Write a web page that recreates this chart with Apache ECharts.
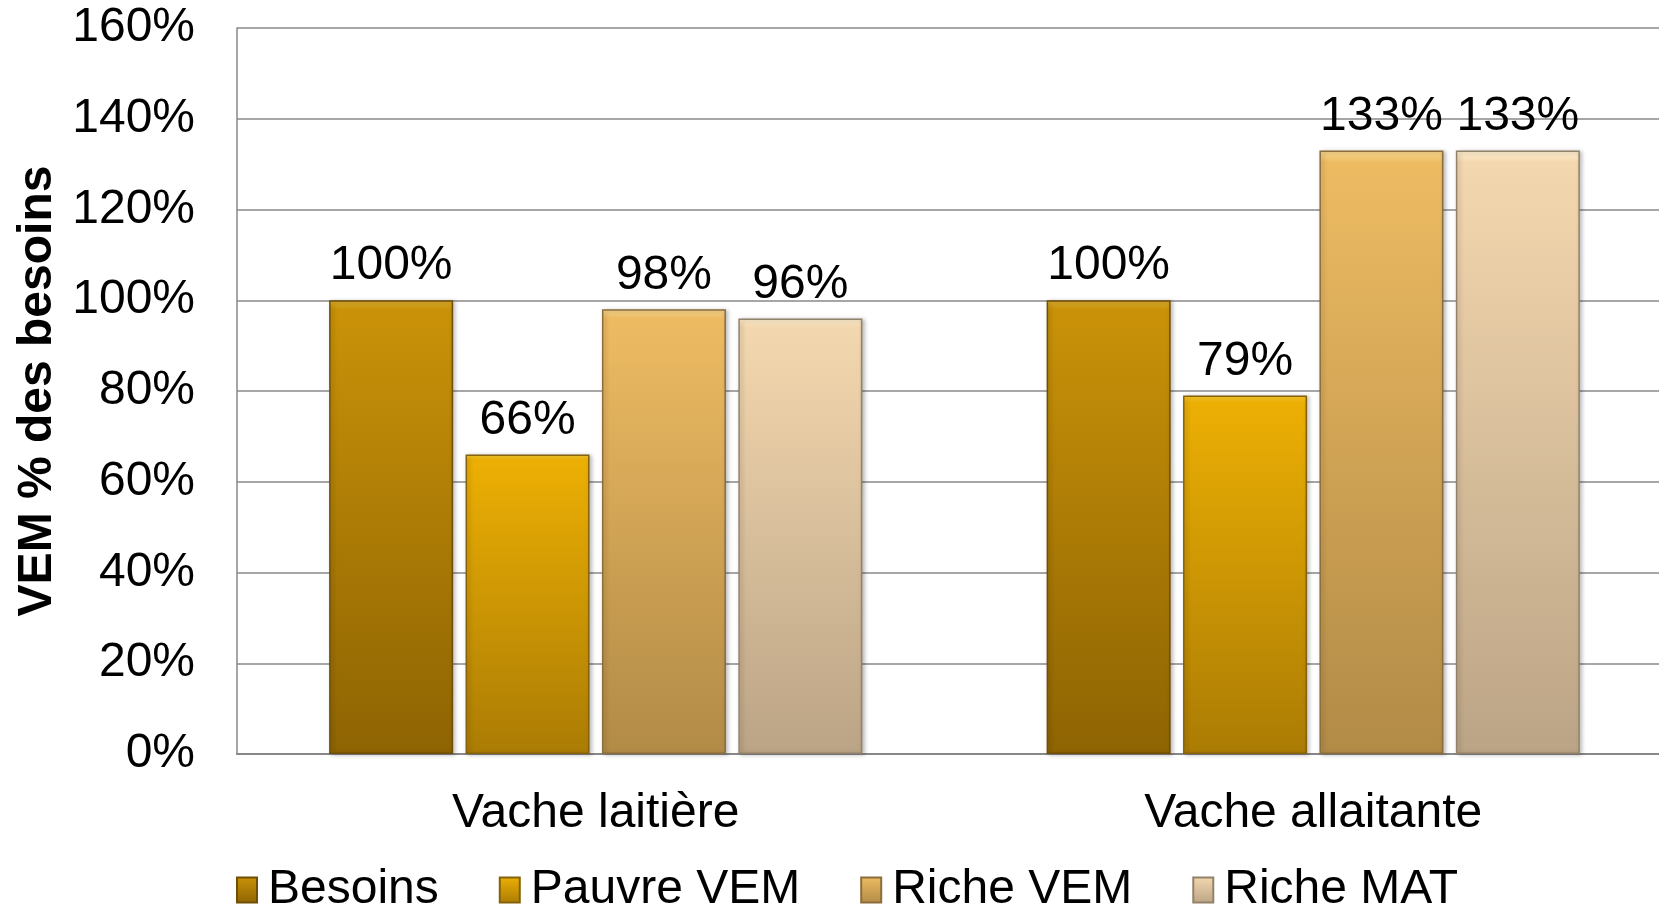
<!DOCTYPE html>
<html>
<head>
<meta charset="utf-8">
<script src="https://cdn.jsdelivr.net/npm/echarts@6/dist/echarts.min.js"></script>
<style>
  html, body { margin: 0; padding: 0; background: #fff; }
  #chart { width: 1659px; height: 909px; }
</style>
</head>
<body>
<div id="chart"></div>
<script>
// Categories and series values (percent of requirements)
const categories = ['Vache laitière', 'Vache allaitante'];
const seriesNames = ['Besoins', 'Pauvre VEM', 'Riche VEM', 'Riche MAT'];
const besoins = [100, 100];
const pauvreVEM = [66, 79];
const richeVEM = [98, 133];
const richeMAT = [96, 133];
const yTicks = { min: 0, max: 160, interval: 20 };

// Per-series shading: [highlight, top, bottom, edge]
const palettes = [
  ['#DDB030', '#C99208', '#8E6403', '#6F4E05'],
  ['#FFD030', '#ECAF04', '#AB7C04', '#85620A'],
  ['#F8D890', '#EDBB62', '#B28B47', '#8C6D3A'],
  ['#FFF0D0', '#F3D7AE', '#BBA486', '#93826B']
];

function barStyle(p) {
  return {
    color: {
      type: 'linear', x: 0, y: 0, x2: 0, y2: 1,
      colorStops: [
        { offset: 0, color: p[0] },
        { offset: 0.02, color: p[1] },
        { offset: 1, color: p[2] }
      ]
    },
    borderColor: p[3],
    borderWidth: 1.5,
    shadowColor: 'rgba(0,0,0,0.25)',
    shadowBlur: 4,
    shadowOffsetX: 2,
    shadowOffsetY: 1
  };
}

const values = [besoins, pauvreVEM, richeVEM, richeMAT];
const FONT = '"Liberation Sans", Arial, sans-serif';

const series = seriesNames.map((name, i) => ({
  name: name,
  type: 'bar',
  data: values[i],
  barWidth: 124,
  barGap: '10%',
  itemStyle: barStyle(palettes[i]),
  label: {
    show: true,
    position: 'top',
    distance: 10,
    formatter: '{c}%',
    color: '#000',
    fontFamily: FONT,
    fontSize: 48
  }
}));

const chart = echarts.init(document.getElementById('chart'), null, { renderer: 'canvas' });
chart.setOption({
  backgroundColor: '#ffffff',
  animation: false,
  // plot area runs slightly past the right edge of the canvas
  grid: { left: 237, width: 1435, top: 28, bottom: 155, containLabel: false, outerBoundsMode: 'none' },
  legend: {
    data: seriesNames,
    left: 231,
    top: 861,
    itemWidth: 20,
    itemHeight: 25,
    itemGap: 60,
    icon: 'rect',
    textStyle: { fontFamily: FONT, fontSize: 48, color: '#000', padding: [0, 0, 0, 6] }
  },
  xAxis: {
    type: 'category',
    data: categories,
    axisLine: { show: true, lineStyle: { color: '#888', width: 2 } },
    axisTick: { show: false },
    axisLabel: { fontFamily: FONT, fontSize: 48, color: '#000', margin: 36 }
  },
  yAxis: {
    type: 'value',
    min: yTicks.min,
    max: yTicks.max,
    interval: yTicks.interval,
    name: 'VEM % des besoins',
    nameLocation: 'middle',
    nameGap: 172,
    nameRotate: 90,
    nameTextStyle: { fontFamily: FONT, fontSize: 48, fontWeight: 'bold', color: '#000' },
    axisLine: { show: true, lineStyle: { color: '#888', width: 1.5 } },
    axisTick: { show: false },
    axisLabel: { formatter: '{value}%', fontFamily: FONT, fontSize: 48, color: '#000', margin: 42 },
    splitLine: { show: true, lineStyle: { color: '#888', width: 1.5 } }
  },
  series: series
});
</script>
</body>
</html>
